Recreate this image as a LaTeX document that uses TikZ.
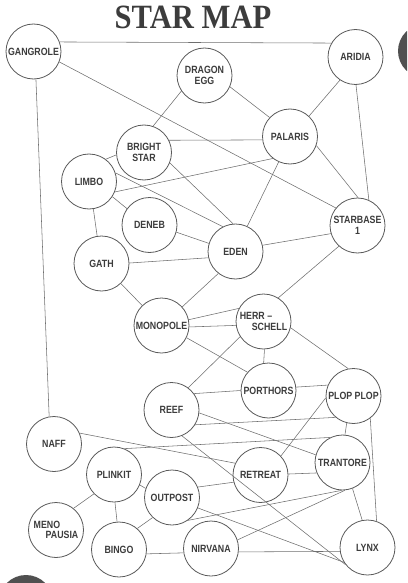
\documentclass[tikz,border=0pt]{standalone}
\usepackage{fontspec}
\usepackage{xcolor}
\usepackage{tikz}
\usetikzlibrary{positioning}
\newfontfamily\labelfont{Liberation Sans}[FakeStretch=0.84]
\newfontfamily\titlefont{Liberation Serif}[FakeStretch=0.9]
\definecolor{inkgray}{HTML}{3C3C3C}
\definecolor{rimgray}{HTML}{5A5A5A}
\definecolor{lanegray}{HTML}{6E6E6E}
\tikzset{
	star/.style = {
			circle,
			draw            = rimgray,
			line width      = 0.8pt,
			minimum size    = 55pt,
			inner sep       = 0pt,
			fill            = white,
			text            = inkgray,
			align           = center,
			font            = \labelfont\bfseries\fontsize{10.5}{10.5}\selectfont,
		},
	lane/.style = {draw=lanegray, line width=0.55pt},
	blot/.style = {fill=inkgray!90},
}

\begin{document}
\begin{tikzpicture}[x=1pt, y=-1pt]
						\useasboundingbox (0,0) rectangle (407,583);
						\clip (0,0) rectangle (407,583);

						\node[text=inkgray, font=\titlefont\bfseries\fontsize{34}{34}\selectfont] at (193,17) (title) {STAR MAP};

						% edge of the page: the dark blots
						\fill[blot] (425,51) circle (27);
						\fill[blot] (26,602) circle (27);

						% stars
						\node[star] at (33.5,51.5) (gangrole) {GANGROLE};
						\node[star] at (355.5,57) (aridia) {ARIDIA};
						\node[star] at (204.5,75.5) (dragonegg) {DRAGON\\EGG};
						\node[star] at (290,136.5) (palaris) {PALARIS};
						\node[star] at (144,152.5) (brightstar) {BRIGHT\\STAR};
						\node[star] at (89,181.5) (limbo) {LIMBO};
						\node[star] at (149.5,225) (deneb) {DENEB};
						\node[star] at (235.5,251.5) (eden) {EDEN};
						\node[star] at (357.5,225.5) (starbase) {STARBASE\\1};
						\node[star] at (101.5,263.5) (gath) {GATH};
						\node[star] at (161.5,325.5) (monopole) {MONOPOLE};
						\node[star, align=left] at (263.5,321.5) (herrschell) {HERR \textendash\\\hspace*{12pt}SCHELL};
						\node[star] at (268.5,390.5) (porthors) {PORTHORS};
						\node[star] at (353.5,396) (plopplop) {PLOP PLOP};
						\node[star] at (171.5,410) (reef) {REEF};
						\node[star] at (54,444) (naff) {NAFF};
						\node[star] at (342.5,462.5) (trantore) {TRANTORE};
						\node[star] at (260.5,475) (retreat) {RETREAT};
						\node[star] at (114,474.5) (plinkit) {PLINKIT};
						\node[star] at (172,497.5) (outpost) {OUTPOST};
						\node[star, align=left] at (56,530) (menopausia) {MENO\\\hspace*{12pt}PAUSIA};
						\node[star] at (119,549.5) (bingo) {BINGO};
						\node[star] at (211,548.5) (nirvana) {NIRVANA};
						\node[star] at (367.5,547.5) (lynx) {LYNX};

						% routes, top part
						\draw[lane] (gangrole.20) -- (aridia.150);
						\draw[lane] (gangrole.-85) -- (naff.100);
						\draw[lane] (gangrole.-22) -- (starbase.141);
						\draw[lane] (dragonegg.214) -- (brightstar.71);
						\draw[lane] (dragonegg.-24) -- (palaris.137);
						\draw[lane] (aridia.236) -- (palaris.47);
						\draw[lane] (aridia.-89) -- (starbase.66);
						\draw[lane] (brightstar.26) -- (palaris.187);
						\draw[lane] (palaris.-19) -- (starbase.89);
						\draw[lane] (limbo.-22) -- (palaris.232);
						\draw[lane] (limbo.53) -- (brightstar.185);
						\draw[lane] (limbo.18) -- (eden.117);
						\draw[lane] (brightstar.-22) -- (eden.95);
						\draw[lane] (palaris.246) -- (eden.65);
						\draw[lane] (limbo.-33) -- (deneb.144);
						\draw[lane] (limbo.-81) -- (gath.99);
						\draw[lane] (deneb.-15) -- (eden.163);
						\draw[lane] (gath.1) -- (eden.193);
						\draw[lane] (eden.13) -- (starbase.197);

						% routes, middle part
						\draw[lane] (gath.-46) -- (monopole.134);
						\draw[lane] (monopole.42) -- (eden.232);
						\draw[lane] (herrschell.58) -- (starbase.228);
						\draw[lane] (monopole.12) -- (herrschell.152);
						\draw[lane] (monopole.-3) -- (herrschell.188);
						\draw[lane] (monopole.-26) -- (porthors.139);
						\draw[lane] (herrschell.-88) -- (porthors.100);
						\draw[lane] (herrschell.-13) -- (plopplop.101);
						\draw[lane] (herrschell.213) -- (reef.53);
						\draw[lane] (reef.36) -- (porthors.180);
						\draw[lane] (porthors.7) -- (plopplop.157);
						\draw[lane] (reef.-32) -- (plopplop.230);
						\draw[lane] (reef.-6) -- (trantore.164);
						\draw[lane] (reef.-68) -- (lynx.218);
						\draw[lane] (plopplop.256) -- (trantore.85);
						\draw[lane] (plopplop.-53) -- (lynx.71);

						% routes, bottom part
						\draw[lane] (retreat.43) -- (plopplop.184);
						\draw[lane] (retreat.2) -- (trantore.202);
						\draw[lane] (naff.23) -- (retreat.155);
						\draw[lane] (plinkit.68) -- (trantore.116);
						\draw[lane] (outpost.22) -- (retreat.195);
						\draw[lane] (outpost.-55) -- (trantore.268);
						\draw[lane] (nirvana.18) -- (trantore.275);
						\draw[lane] (nirvana.-7) -- (lynx.188);
						\draw[lane] (outpost.-22) -- (lynx.212);
						\draw[lane] (trantore.-69) -- (lynx.101);
						\draw[lane] (plinkit.-22) -- (outpost.161);
						\draw[lane] (menopausia.51) -- (plinkit.224);
						\draw[lane] (plinkit.-88) -- (bingo.94);
						\draw[lane] (bingo.49) -- (outpost.226);
						\draw[lane] (bingo.-9) -- (nirvana.189);
					\end{tikzpicture}
\end{document}
